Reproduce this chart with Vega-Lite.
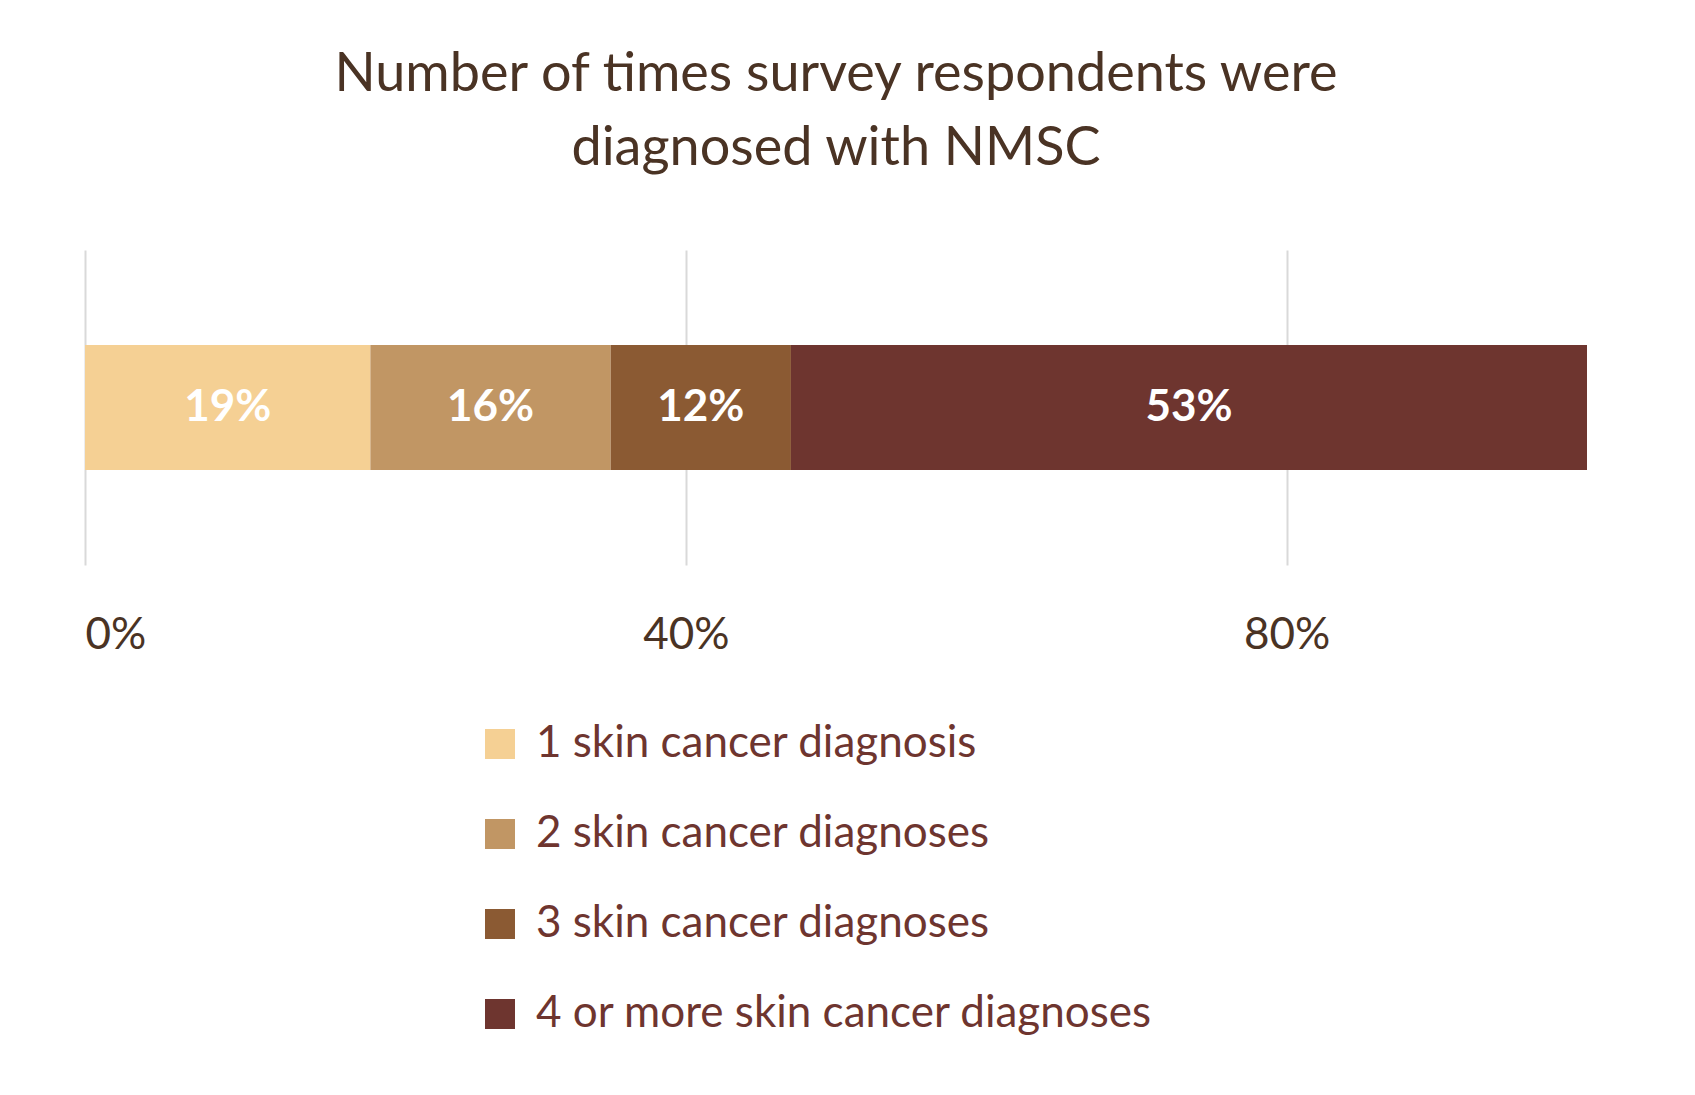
{
  "$schema": "https://vega.github.io/schema/vega-lite/v6.json",
  "width": 1502,
  "height": 315,
  "autosize": "none",
  "padding": {"left": 85, "top": 250, "right": 108, "bottom": 530},
  "background": "white",
  "config": {"view": {"stroke": null}, "font": "Lato"},
  "title": {
    "text": ["Number of times survey respondents were", "diagnosed with NMSC"],
    "fontSize": 54,
    "fontWeight": "normal",
    "color": "#4a3324",
    "lineHeight": 74,
    "anchor": "middle",
    "offset": 74
  },
  "data": {
    "values": [
      {"category": "1 skin cancer diagnosis", "ord": 1, "share": 0.19},
      {"category": "2 skin cancer diagnoses", "ord": 2, "share": 0.16},
      {"category": "3 skin cancer diagnoses", "ord": 3, "share": 0.12},
      {"category": "4 or more skin cancer diagnoses", "ord": 4, "share": 0.53}
    ]
  },
  "transform": [
    {"stack": "share", "groupby": [], "sort": [{"field": "ord"}], "as": ["v0", "v1"]},
    {"calculate": "(datum.v0 + datum.v1) / 2", "as": "mid"}
  ],
  "layer": [
    {
      "mark": {"type": "bar", "height": 125},
      "encoding": {
        "x": {
          "field": "v0", "type": "quantitative",
          "scale": {"domain": [0, 1]},
          "axis": {
            "format": ".0%", "tickCount": 5, "values": [0, 0.2, 0.4, 0.6, 0.8, 1],
            "title": null, "domain": false, "ticks": false,
            "grid": true, "gridColor": "#d9d9d9", "gridWidth": 2,
            "labelFontSize": 44, "labelColor": "#4a3324", "labelPadding": 48
          }
        },
        "x2": {"field": "v1"},
        "color": {
          "field": "category", "type": "nominal",
          "scale": {
            "domain": ["1 skin cancer diagnosis", "2 skin cancer diagnoses", "3 skin cancer diagnoses", "4 or more skin cancer diagnoses"],
            "range": ["#f5d094", "#c19664", "#8b5a33", "#6e352f"]
          },
          "legend": {
            "title": null, "orient": "none", "legendX": 393, "legendY": 472,
            "symbolType": "square", "symbolSize": 900, "symbolStrokeWidth": 0,
            "labelFontSize": 44, "labelColor": "#6e352f", "labelLimit": 900,
            "rowPadding": 46, "labelOffset": 14
          }
        }
      }
    },
    {
      "mark": {"type": "text", "color": "white", "fontSize": 44, "fontWeight": "bold"},
      "encoding": {
        "x": {"field": "mid", "type": "quantitative"},
        "text": {"field": "share", "type": "quantitative", "format": ".0%"}
      }
    }
  ]
}
